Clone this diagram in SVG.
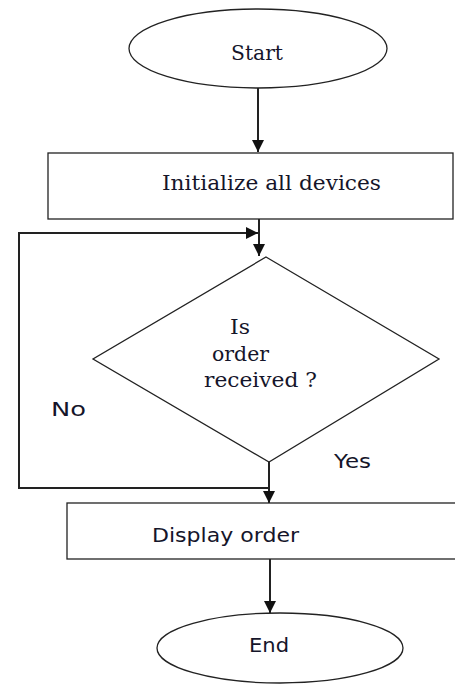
<svg xmlns="http://www.w3.org/2000/svg" width="455" height="684" viewBox="0 0 455 684">
<style>
.shape{fill:#fff;stroke:#222;stroke-width:1.3}
.conn{fill:none;stroke:#222;stroke-width:2}
.serif{font-family:"DejaVu Serif","Liberation Serif",serif;font-size:20px;fill:#15152a}
.sans{font-family:"DejaVu Sans","Liberation Sans",sans-serif;font-size:19.5px;fill:#15152a}
</style>
<defs>
<marker id="ah" markerWidth="12" markerHeight="12" refX="12" refY="6" orient="auto" markerUnits="userSpaceOnUse">
<path d="M0,0 L12,6 L0,12 Z" fill="#111"/>
</marker>
</defs>
<rect width="455" height="684" fill="#fff"/>
<g id="connectors">
<line class="conn" x1="258" y1="88" x2="258" y2="152" marker-end="url(#ah)"/>
<line class="conn" x1="259" y1="219" x2="259" y2="256" marker-end="url(#ah)"/>
<polyline class="conn" points="269,488 19,488 19,233 258,233" marker-end="url(#ah)"/>
<line class="conn" x1="269" y1="462" x2="269" y2="503" marker-end="url(#ah)"/>
<line class="conn" x1="270" y1="559" x2="270" y2="613" marker-end="url(#ah)"/>
<text class="sans" x="51" y="416" textLength="35" lengthAdjust="spacingAndGlyphs">No</text>
<text class="sans" x="334" y="468" textLength="37" lengthAdjust="spacingAndGlyphs">Yes</text>
</g>
<g id="start">
<ellipse class="shape" cx="258" cy="48.5" rx="129" ry="39.5"/>
<text class="serif" x="231" y="60" textLength="52" lengthAdjust="spacingAndGlyphs">Start</text>
</g>
<g id="init">
<rect class="shape" x="48" y="153" width="405" height="66"/>
<text class="serif" x="162" y="190" textLength="219" lengthAdjust="spacingAndGlyphs">Initialize all devices</text>
</g>
<g id="decision">
<polygon class="shape" points="266,257 439,359 269,462 93,359"/>
<text class="serif" x="230" y="334" textLength="20" lengthAdjust="spacingAndGlyphs">Is</text>
<text class="serif" x="212" y="361" textLength="57" lengthAdjust="spacingAndGlyphs">order</text>
<text class="serif" x="204" y="387" textLength="113" lengthAdjust="spacingAndGlyphs">received ?</text>
</g>
<g id="display">
<rect class="shape" x="67" y="503" width="390" height="56"/>
<text class="sans" x="152" y="542" textLength="147" lengthAdjust="spacingAndGlyphs">Display order</text>
</g>
<g id="end">
<ellipse class="shape" cx="280" cy="648" rx="123" ry="35"/>
<text class="sans" x="249" y="652" textLength="40" lengthAdjust="spacingAndGlyphs">End</text>
</g>
</svg>
